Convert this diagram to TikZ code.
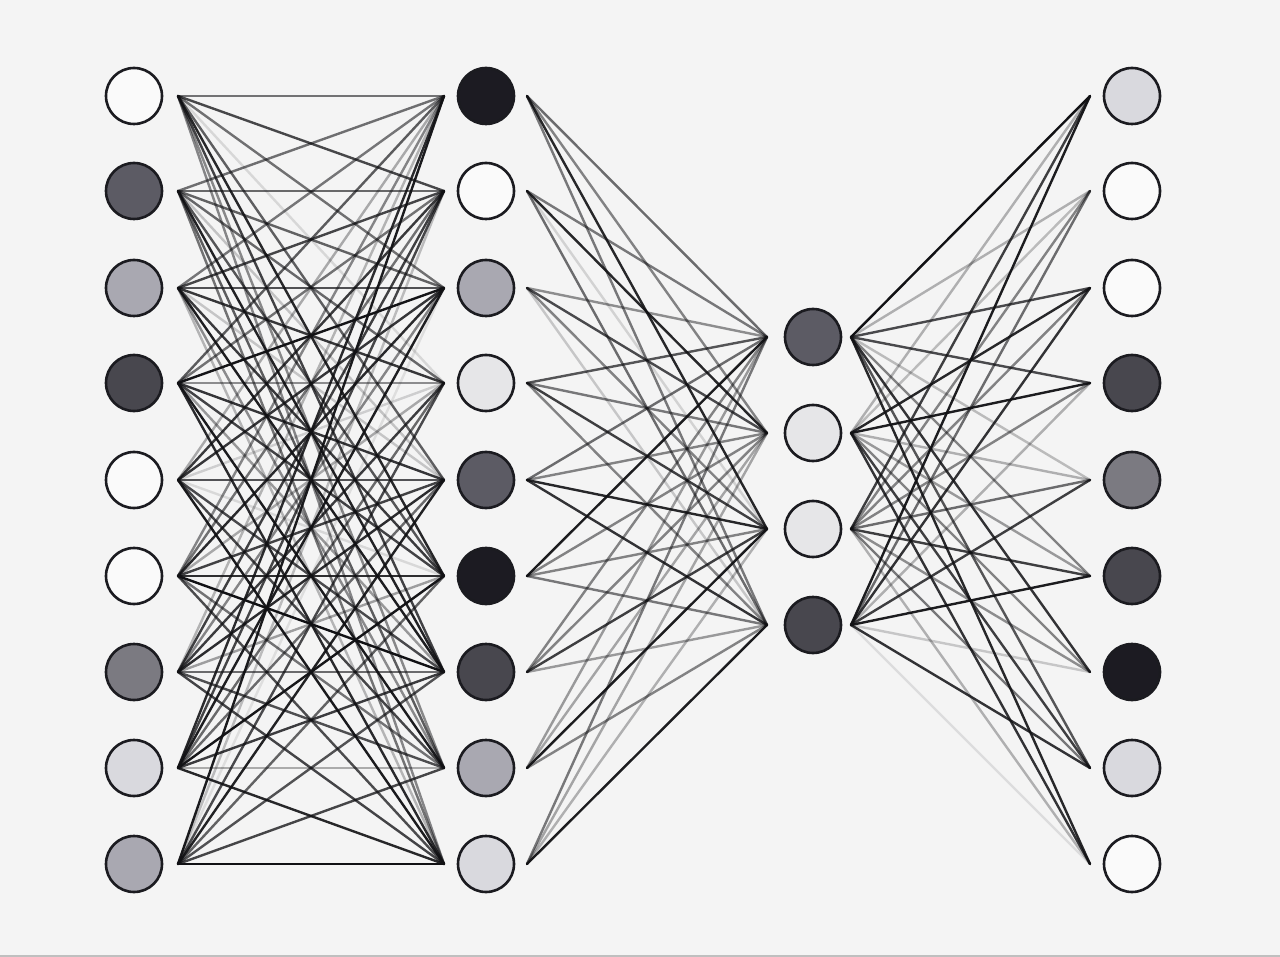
\documentclass[tikz,border=0pt]{standalone}
\definecolor{bgc}{HTML}{F4F4F4}
\definecolor{edgec}{HTML}{1B1B20}
\definecolor{linkc}{HTML}{111114}
\definecolor{fW}{HTML}{FAFAFA}
\definecolor{fL}{HTML}{E6E6E8}
\definecolor{fM}{HTML}{D9D9DE}
\definecolor{fG}{HTML}{A9A8B1}
\definecolor{fN}{HTML}{7B7A81}
\definecolor{fD}{HTML}{5C5B64}
\definecolor{fK}{HTML}{48474E}
\definecolor{fB}{HTML}{1C1B22}
\begin{document}
\begin{tikzpicture}[x=1pt,y=-1pt,
  neuron/.style={circle,draw=edgec,line width=2.6pt,minimum size=56pt,inner sep=0pt},
  link/.style={line width=2.4pt,draw=linkc,line cap=round}]
\fill[bgc] (0,0) rectangle (1280,957);
\useasboundingbox (0,0) rectangle (1280,957);
\draw[color=black!25,line width=2pt] (0,956) -- (1280,956);
\pgfmathsetseed{4242}
% coordinates for line ends
\foreach \y [count=\i] in {96,191,288,383,480,576,672,768,864}{
  \coordinate (ao\i) at (178,\y);
  \coordinate (bi\i) at (444,\y);
  \coordinate (bo\i) at (527,\y);
  \coordinate (di\i) at (1090,\y);
}
\foreach \y [count=\j] in {337,433,529,625}{
  \coordinate (ci\j) at (767,\y);
  \coordinate (co\j) at (851,\y);
}
% links, layer 1 -> 2
\foreach \i in {1,...,9}{
  \foreach \j in {1,...,9}{
    \pgfmathsetmacro\op{0.06+0.94*(rnd)^0.5}
    \draw[link,draw opacity=\op] (ao\i) -- (bi\j);
  }
}
% links, layer 2 -> 3
\foreach \i/\pa/\pb/\pc/\pd in {
  1/0.6/0.5/0.9/0.55, 2/0.55/0.9/0.15/0.6, 3/0.45/0.75/0.5/0.2,
  4/0.7/0.55/0.8/0.5, 5/0.6/0.5/0.9/0.85, 6/0.95/0.5/0.5/0.55,
  7/0.5/0.5/0.8/0.4, 8/0.4/0.35/0.95/0.5, 9/0.55/0.35/0.3/0.95}{
  \draw[link,draw opacity=\pa] (bo\i) -- (ci1);
  \draw[link,draw opacity=\pb] (bo\i) -- (ci2);
  \draw[link,draw opacity=\pc] (bo\i) -- (ci3);
  \draw[link,draw opacity=\pd] (bo\i) -- (ci4);
}
% links, layer 3 -> 4
\foreach \i/\pa/\pb/\pc/\pd in {
  1/1.0/0.3/0.8/0.95, 2/0.3/0.25/0.5/0.6, 3/0.75/0.9/0.5/0.85,
  4/0.75/0.95/0.5/0.3, 5/0.25/0.3/0.6/0.8, 6/0.5/0.4/0.8/0.95,
  7/0.85/0.5/0.45/0.2, 8/0.7/0.8/0.55/0.85, 9/0.9/0.85/0.3/0.1}{
  \draw[link,draw opacity=\pa] (co1) -- (di\i);
  \draw[link,draw opacity=\pb] (co2) -- (di\i);
  \draw[link,draw opacity=\pc] (co3) -- (di\i);
  \draw[link,draw opacity=\pd] (co4) -- (di\i);
}
% nodes
\foreach \y/\f [count=\i] in {96/fW,191/fD,288/fG,383/fK,480/fW,576/fW,672/fN,768/fM,864/fG}{
  \node[neuron,fill=\f] (a\i) at (134,\y) {};
}
\foreach \y/\f [count=\i] in {96/fB,191/fW,288/fG,383/fL,480/fD,576/fB,672/fK,768/fG,864/fM}{
  \node[neuron,fill=\f] (b\i) at (486,\y) {};
}
\foreach \y/\f [count=\i] in {337/fD,433/fL,529/fL,625/fK}{
  \node[neuron,fill=\f] (c\i) at (813,\y) {};
}
\foreach \y/\f [count=\i] in {96/fM,191/fW,288/fW,383/fK,480/fN,576/fK,672/fB,768/fM,864/fW}{
  \node[neuron,fill=\f] (d\i) at (1132,\y) {};
}
\end{tikzpicture}
\end{document}
